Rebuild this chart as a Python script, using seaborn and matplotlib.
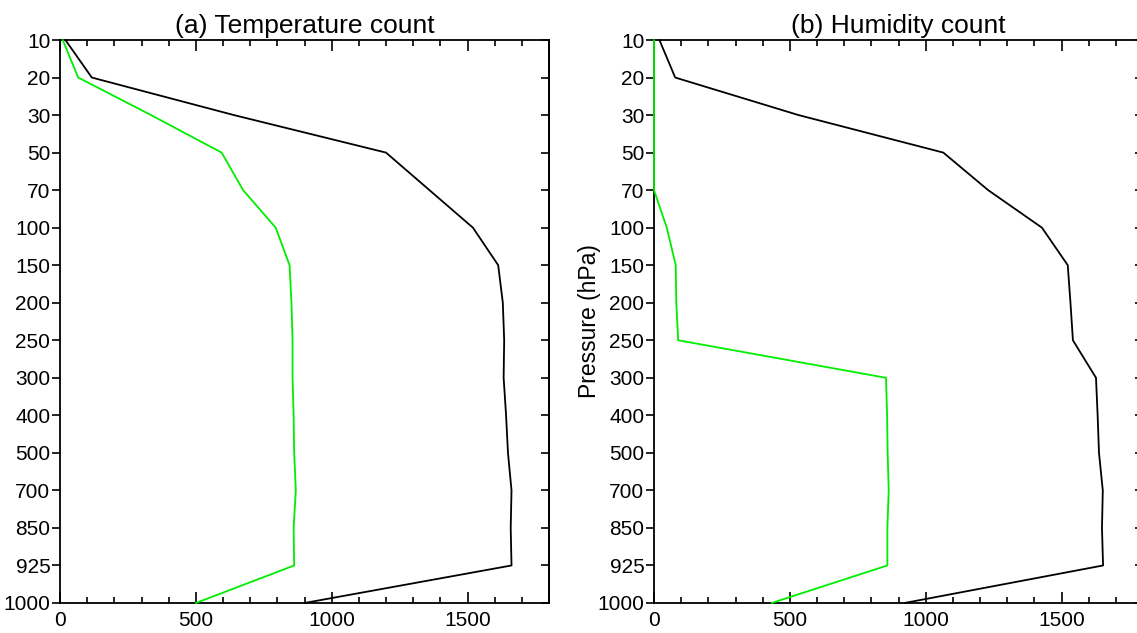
import matplotlib
matplotlib.use("Agg")
import matplotlib.pyplot as plt
from matplotlib.ticker import MultipleLocator
import pandas as pd
import seaborn as sns

#pressure levels (hPa), drawn evenly spaced top to bottom
levels = [10, 20, 30, 50, 70, 100, 150, 200, 250, 300, 400, 500, 700, 850, 925, 1000]

#(a) temperature counts
temp_total = [20, 117, 640, 1200, 1360, 1520, 1613, 1630, 1635, 1633, 1642, 1649, 1662, 1659, 1662, 900]
temp_used = [10, 67, 335, 595, 674, 794, 845, 852, 856, 856, 860, 862, 868, 860, 862, 500]

#(b) humidity counts
hum_total = [20, 78, 532, 1065, 1230, 1428, 1523, 1533, 1542, 1627, 1633, 1638, 1652, 1649, 1653, 922]
hum_used = [0, 0, 0, 0, 0, 47, 80, 82, 89, 854, 858, 860, 864, 859, 859, 433]

titles = ["(a) Temperature count", "(b) Humidity count"]

sns.set_style("ticks")
plt.rcParams["font.family"] = ["Liberation Sans", "DejaVu Sans"]
#plain black text and axes like the original
for k in ["text.color", "axes.labelcolor", "xtick.color", "ytick.color", "axes.edgecolor"]:
    plt.rcParams[k] = "black"

fig = plt.figure(figsize=(11.37, 6.33), dpi=100)
W, H = 1137, 633
ax_a = fig.add_axes([60 / W, 30 / H, 489 / W, 563 / H])
ax_b = fig.add_axes([654 / W, 30 / H, 489 / W, 563 / H])

pos = list(range(len(levels)))

panels = [(ax_a, temp_total, temp_used), (ax_b, hum_total, hum_used)]
for i, (ax, total, used) in enumerate(panels):
    df = pd.DataFrame({"pos": pos, "total": total, "used": used})

    sns.lineplot(data=df, x="total", y="pos", orient="y", sort=False, estimator=None,
                 color="black", linewidth=1.3, ax=ax, zorder=3, clip_on=False)
    sns.lineplot(data=df, x="used", y="pos", orient="y", sort=False, estimator=None,
                 color="#00ee00", linewidth=1.3, ax=ax, zorder=3, clip_on=False)

    ax.set_xlim(0, 1800)
    ax.set_ylim(len(levels) - 1, 0)
    ax.set_yticks(pos)
    ax.set_yticklabels(levels)
    ax.xaxis.set_major_locator(MultipleLocator(500))
    ax.xaxis.set_minor_locator(MultipleLocator(100))
    ax.tick_params(axis="x", which="both", top=True, bottom=True, direction="in",
                   labelsize=15, pad=6, width=1.2)
    ax.tick_params(axis="x", which="major", length=8)
    ax.tick_params(axis="x", which="minor", length=4)
    ax.tick_params(axis="y", direction="out", length=6, width=1.2, labelsize=15, pad=1)

    #right side ticks point inward
    sec = ax.secondary_yaxis("right")
    sec.set_yticks(pos)
    sec.set_yticklabels([])
    sec.tick_params(direction="in", length=6, width=1.2)
    sec.spines["right"].set_linewidth(1.3)

    for s in ax.spines.values():
        s.set_linewidth(1.3)

    ax.set_xlabel("")
    ax.set_ylabel("")
    ax.set_title(titles[i], fontsize=19, pad=5)

ax_b.set_ylabel("Pressure (hPa)", fontsize=16.5)
ax_b.yaxis.set_label_coords(-0.108, 0.5)

fig.savefig("out.png", dpi=100)
